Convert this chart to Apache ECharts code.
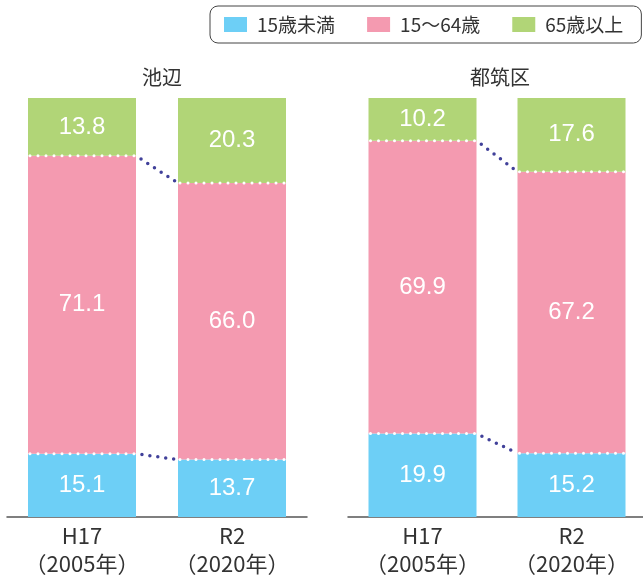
<!DOCTYPE html>
<html>
<head>
<meta charset="utf-8">
<script src="https://cdn.jsdelivr.net/npm/echarts@6/dist/echarts.min.js"></script>
<style>html,body{margin:0;padding:0;background:#fff}#c{width:643px;height:575px}</style>
</head>
<body>
<div id="c"></div>
<script>
const categories = ['H17\n（2005年）', 'R2\n（2020年）'];
const regions = ['池辺', '都筑区'];
const seriesNames = ['15歳未満', '15～64歳', '65歳以上'];
const under15 = [[15.1, 13.7], [19.9, 15.2]];
const age15to64 = [[71.1, 66.0], [69.9, 67.2]];
const over65 = [[13.8, 20.3], [10.2, 17.6]];

const colors = ['#6dcff6', '#f49ab0', '#b1d577'];
const BAR_W = 108;
const FONT = '"Noto Sans CJK JP", "Noto Sans", sans-serif';
const NUMFONT = '"Liberation Sans", Arial, sans-serif';

const chart = echarts.init(document.getElementById('c'));

const grids = [
  { left: 7, width: 300, top: 98, bottom: 58, containLabel: false, outerBoundsMode: 'none' },
  { left: 348, width: 298, top: 98, bottom: 58, containLabel: false, outerBoundsMode: 'none' }
];

const series = [];
const xAxes = [], yAxes = [];
const titles = [];
const titleX = [157, 495];

regions.forEach((r, g) => {
  xAxes.push({
    type: 'category', gridIndex: g, data: categories,
    axisTick: { show: false },
    axisLine: { lineStyle: { color: '#555', width: 1.5 } },
    axisLabel: { color: '#333', fontSize: 22, lineHeight: 28, margin: 5, fontFamily: FONT, interval: 0 }
  });
  yAxes.push({ type: 'value', gridIndex: g, min: 0, max: 100, show: false });
  titles.push({
    text: r, left: titleX[g], top: 62, textAlign: 'center',
    textStyle: { color: '#333', fontSize: 20, fontWeight: 'normal', fontFamily: FONT }
  });
  const sets = [under15[g], age15to64[g], over65[g]];
  sets.forEach((vals, k) => {
    series.push({
      type: 'bar', name: seriesNames[k], xAxisIndex: g, yAxisIndex: g,
      stack: 'total' + g, barWidth: BAR_W, data: vals,
      itemStyle: { color: colors[k] },
      label: {
        show: true, position: 'inside', color: '#fff', fontSize: 24,
        fontFamily: NUMFONT, formatter: p => p.value.toFixed(1)
      },
      emphasis: { disabled: true }
    });
  });
  const n = categories.length;
  const data = [];
  for (let i = 0; i < n; i++) {
    const b1 = under15[g][i];
    const b2 = under15[g][i] + age15to64[g][i];
    const nb1 = i < n - 1 ? under15[g][i + 1] : b1;
    const nb2 = i < n - 1 ? under15[g][i + 1] + age15to64[g][i + 1] : b2;
    data.push([i, b1, b2, nb1, nb2, i < n - 1 ? 1 : 0]);
  }
  series.push({
    type: 'custom', xAxisIndex: g, yAxisIndex: g, silent: true, z: 10,
    dimensions: ['x', 'b1', 'b2', 'nb1', 'nb2', 'hasNext'],
    encode: { x: 0, y: [1, 2] },
    data: data,
    renderItem: function (params, api) {
      const i = api.value(0);
      const half = BAR_W / 2;
      const children = [];
      const bs = [api.value(1), api.value(2)];
      const nbs = [api.value(3), api.value(4)];
      bs.forEach((b, j) => {
        const p = api.coord([i, b]);
        children.push({
          type: 'line',
          shape: { x1: p[0] - half + 2, y1: p[1], x2: p[0] + half + 2, y2: p[1] },
          style: { stroke: '#fff', lineWidth: 3, lineDash: [0, 8], lineCap: 'round' }
        });
        if (api.value(5)) {
          const q = api.coord([i + 1, nbs[j]]);
          children.push({
            type: 'line',
            shape: { x1: p[0] + half, y1: p[1], x2: q[0] - half, y2: q[1] },
            style: { stroke: '#41419a', lineWidth: 3.5, lineDash: [0, 8], lineCap: 'round', lineDashOffset: -6 }
          });
        }
      });
      return { type: 'group', children: children };
    }
  });
});

chart.setOption({
  animation: false,
  title: titles,
  legend: {
    left: 210, top: 6,
    data: seriesNames,
    itemWidth: 23, itemHeight: 15, itemGap: 32,
    padding: [9, 18, 9, 14],
    borderColor: '#444', borderWidth: 1, borderRadius: 8,
    textStyle: { color: '#333', fontSize: 19, fontFamily: FONT, padding: [0, 0, 0, 5] },
    selectedMode: false,
    icon: 'rect'
  },
  grid: grids,
  xAxis: xAxes,
  yAxis: yAxes,
  series: series
});
</script>
</body>
</html>
